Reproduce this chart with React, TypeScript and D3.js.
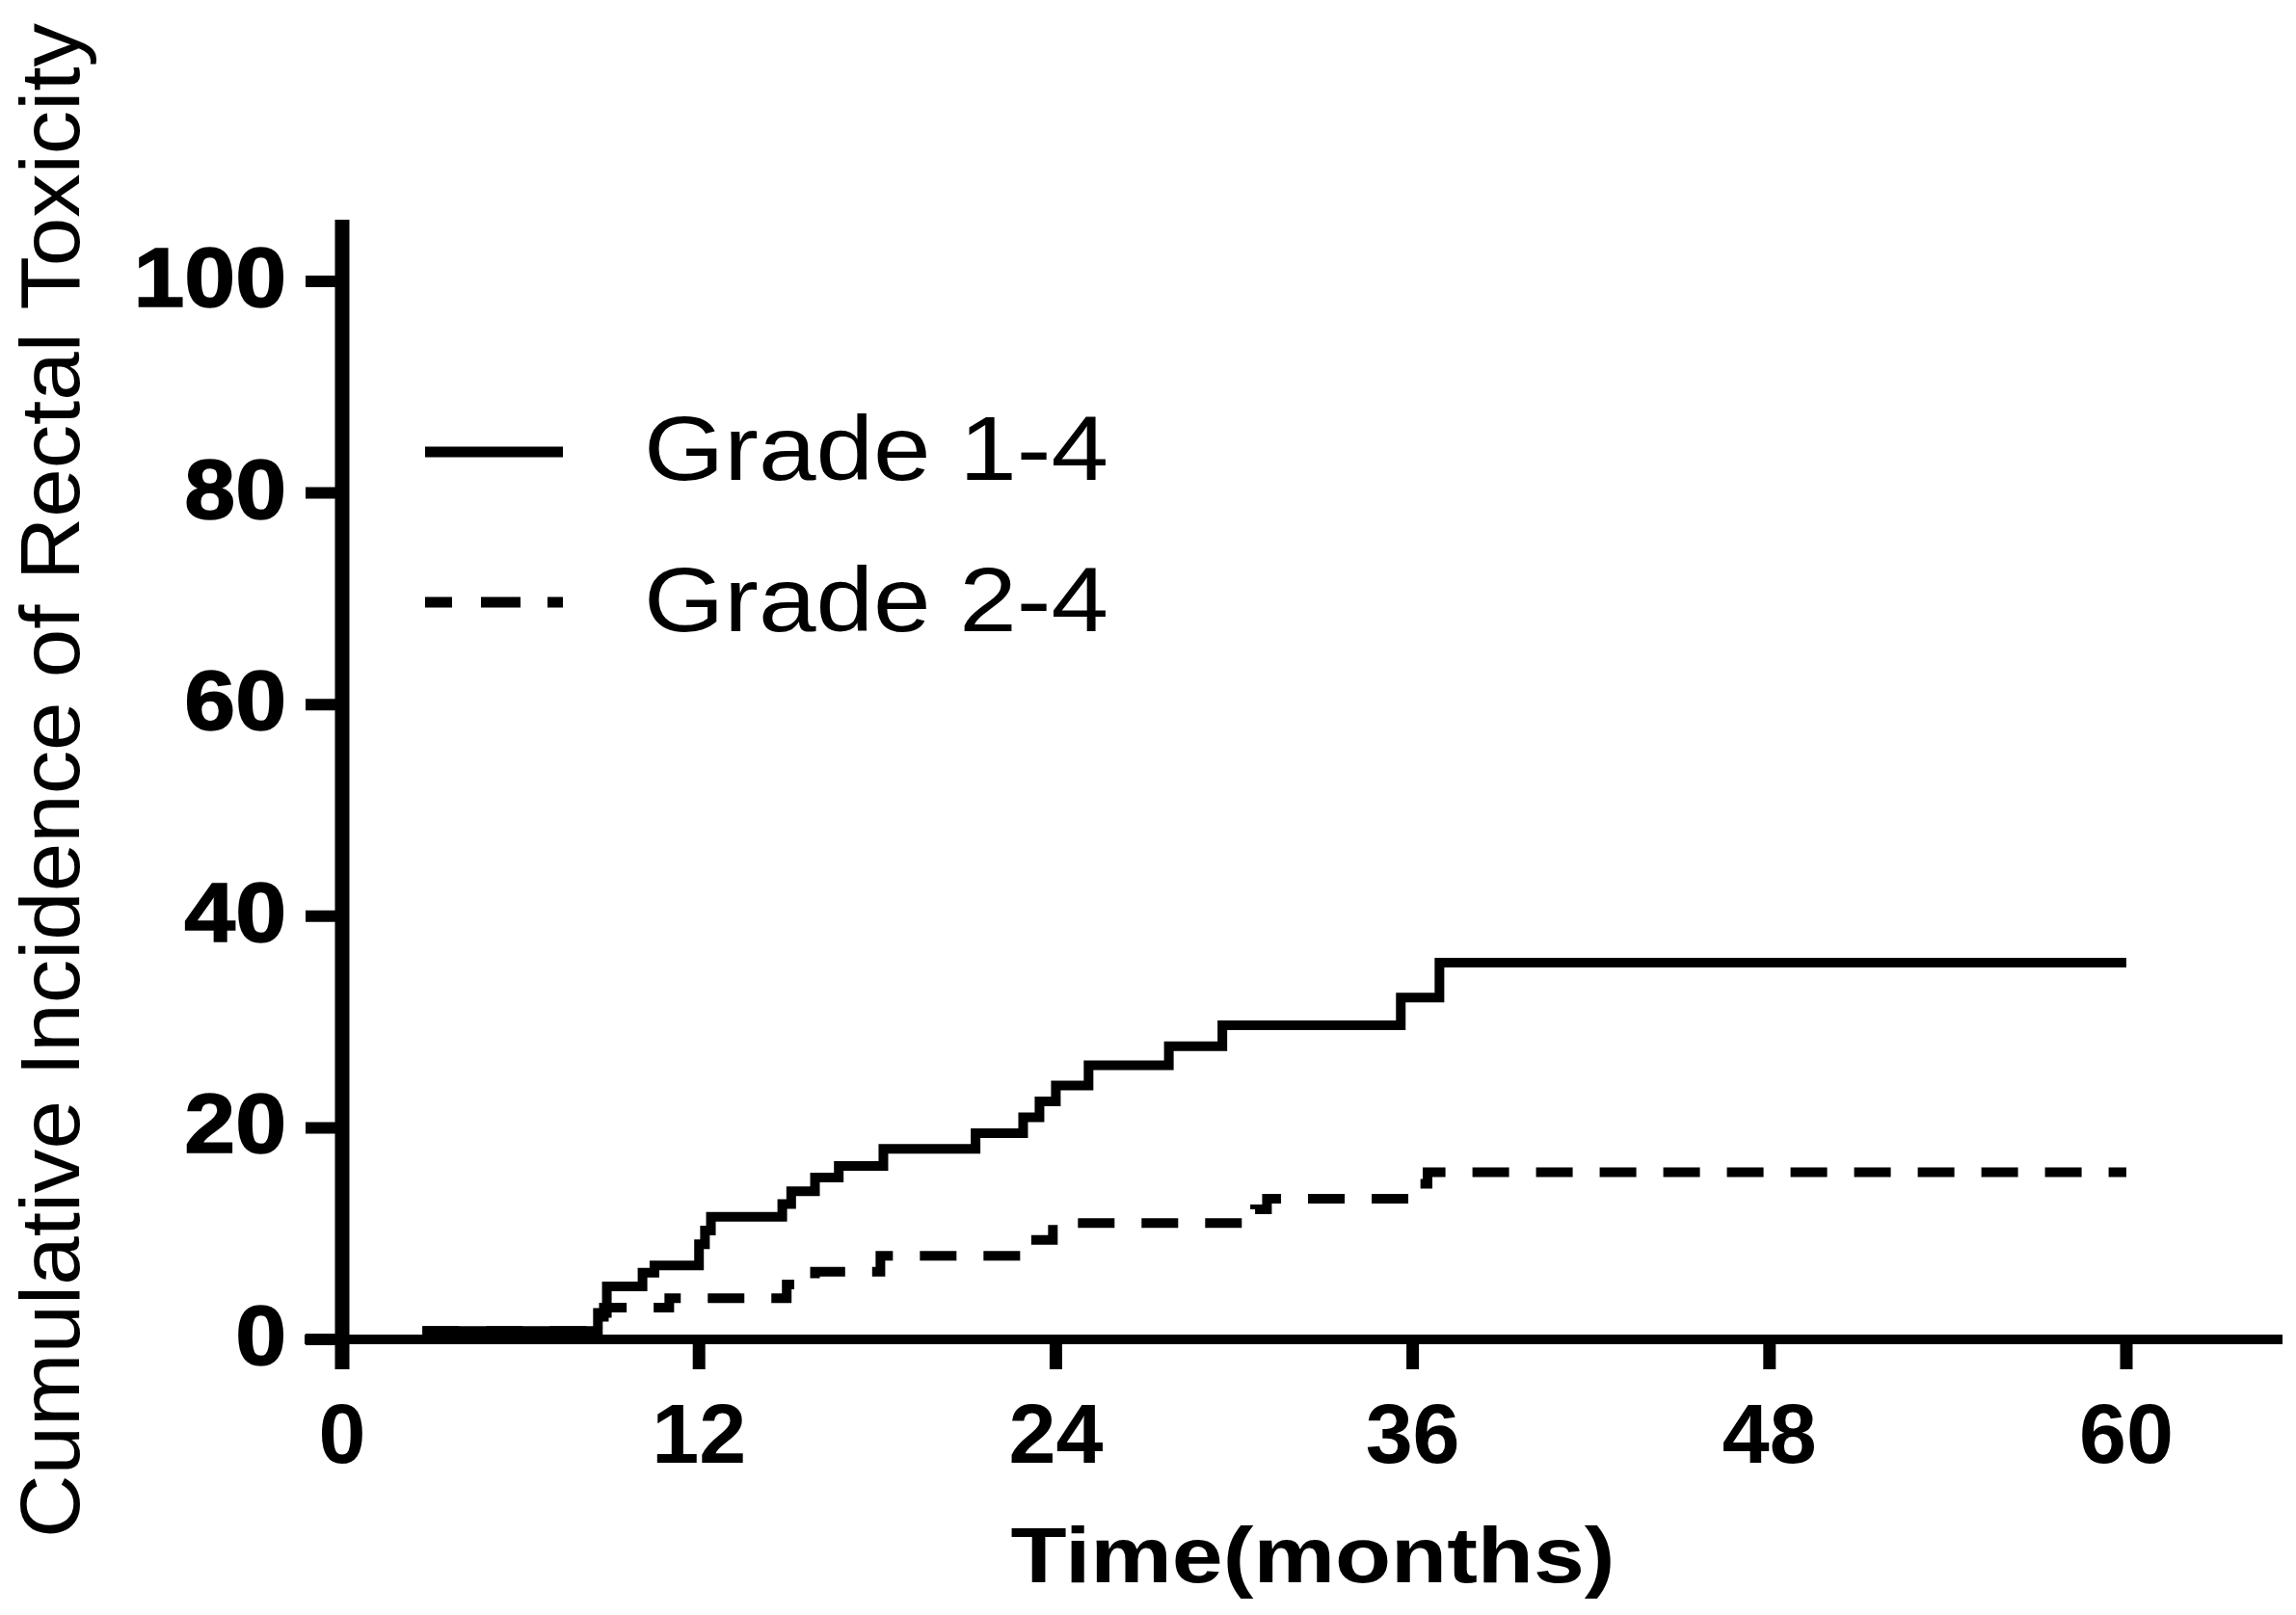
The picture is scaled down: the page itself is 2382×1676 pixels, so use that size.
import React from "react";
import * as d3 from "d3";

// ---- data ----
const xTickValues = [0, 12, 24, 36, 48, 60];
const yTickValues = [0, 20, 40, 60, 80, 100];

const grade14Times = [2.7, 8.6, 8.9, 10.1, 10.5, 12.0, 12.2, 12.4, 14.8, 15.1, 15.9, 16.7, 18.2, 21.3, 22.9, 23.45, 24.0, 25.1, 27.8, 29.6, 35.6, 36.9, 60];
const grade14Values = [0.8, 2.5, 5.0, 6.3, 7.0, 9.0, 10.3, 11.6, 12.8, 14.0, 15.3, 16.4, 18.0, 19.5, 21.0, 22.5, 24.0, 25.9, 27.7, 29.7, 32.3, 35.6, 35.6];

const grade24Times = [2.7, 8.8, 11.0, 14.95, 15.9, 18.1, 22.8, 23.9, 30.7, 31.1, 36.1, 36.5, 60];
const grade24Values = [0.8, 3.0, 3.9, 5.2, 6.4, 7.9, 9.4, 11.0, 12.3, 13.3, 14.7, 15.8, 15.8];

const seriesNames = ["Grade 1-4", "Grade 2-4"];
const xTitle = "Time(months)";
const yTitle = "Cumulative Incidence of Rectal Toxicity";

const FONT = "'Liberation Sans', Arial, Helvetica, sans-serif";

export default function App() {
  const W = 2382;
  const H = 1676;
  const x = d3.scaleLinear().domain([0, 60]).range([355, 2206]);
  const y = d3.scaleLinear().domain([0, 100]).range([1390, 292]);

  const line = d3
    .line<[number, number]>()
    .x((d) => x(d[0]))
    .y((d) => y(d[1]))
    .curve(d3.curveStepAfter);

  const s1: [number, number][] = grade14Times.map((t, i) => [t, grade14Values[i]]);
  const s2: [number, number][] = grade24Times.map((t, i) => [t, grade24Values[i]]);

  const axisX0 = x(0);
  const axisY0 = y(0);

  return (
    <svg
      width={W}
      height={H}
      viewBox={`0 0 ${W} ${H}`}
      style={{ position: "fixed", left: 0, top: 0, background: "#fff" }}
    >
      <rect x={0} y={0} width={W} height={H} fill="#fff" />

      {/* curves */}
      <path d={line(s2) || ""} fill="none" stroke="#000" strokeWidth={10} strokeDasharray="38,28" />
      <path d={line(s1) || ""} fill="none" stroke="#000" strokeWidth={10} />

      {/* y axis */}
      <line x1={axisX0} x2={axisX0} y1={228} y2={1421} stroke="#000" strokeWidth={15} />
      {yTickValues.map((v) => (
        <g key={"yt" + v}>
          <line x1={317} x2={axisX0} y1={y(v)} y2={y(v)} stroke="#000" strokeWidth={12} />
          <text
            transform={`translate(297, ${y(v) + 26}) scale(1.08, 1)`}
            textAnchor="end"
            fontFamily={FONT}
            fontWeight="bold"
            fontSize={88}
            fill="#000"
            stroke="#000"
            strokeWidth={1.5}
          >
            {v}
          </text>
        </g>
      ))}

      {/* x axis */}
      <line x1={316} x2={2368} y1={axisY0} y2={axisY0} stroke="#000" strokeWidth={10} />
      {xTickValues.map((v) => (
        <g key={"xt" + v}>
          <line x1={x(v)} x2={x(v)} y1={axisY0} y2={1421} stroke="#000" strokeWidth={13} />
          <text
            x={x(v)}
            y={1518}
            textAnchor="middle"
            fontFamily={FONT}
            fontWeight="bold"
            fontSize={88}
            fill="#000"
          >
            {v}
          </text>
        </g>
      ))}

      {/* axis titles */}
      <text
        x={1362}
        y={1642}
        textAnchor="middle"
        fontFamily={FONT}
        fontWeight="bold"
        fontSize={82}
        textLength={627}
        lengthAdjust="spacingAndGlyphs"
        fill="#000"
      >
        {xTitle}
      </text>
      <text
        transform="translate(82, 810) rotate(-90)"
        textAnchor="middle"
        fontFamily={FONT}
        fontSize={87}
        textLength={1572}
        lengthAdjust="spacingAndGlyphs"
        fill="#000"
      >
        {yTitle}
      </text>

      {/* legend */}
      <line x1={441} x2={584} y1={469} y2={469} stroke="#000" strokeWidth={11} />
      <text x={668} y={498} fontFamily={FONT} fontSize={95} textLength={482} lengthAdjust="spacingAndGlyphs" fill="#000">
        {seriesNames[0]}
      </text>
      <line x1={441} x2={584} y1={625} y2={625} stroke="#000" strokeWidth={11} strokeDasharray="28,30,41,28" />
      <text x={668} y={655} fontFamily={FONT} fontSize={95} textLength={482} lengthAdjust="spacingAndGlyphs" fill="#000">
        {seriesNames[1]}
      </text>
    </svg>
  );
}
